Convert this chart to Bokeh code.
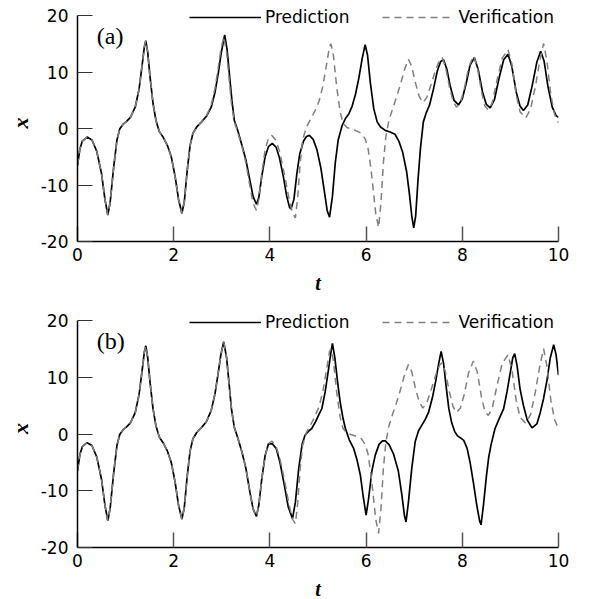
from bokeh.plotting import figure
from bokeh.layouts import column
from bokeh.models import Range1d, Label, FixedTicker
from bokeh.embed import file_html
from bokeh.resources import INLINE

# ---------------- data ----------------
T_A = [
    0, 0.05, 0.1, 0.2, 0.3, 0.4, 0.5, 0.57, 0.63, 0.68,
    0.75, 0.82, 0.88, 0.95, 1.02, 1.1, 1.2, 1.28, 1.34, 1.39,
    1.42, 1.46, 1.51, 1.57, 1.63, 1.7, 1.78, 1.87, 1.95, 2.03,
    2.1, 2.17, 2.22, 2.28, 2.34, 2.4, 2.48, 2.58, 2.68, 2.78,
    2.86, 2.93, 2.99, 3.06, 3.11, 3.16, 3.21, 3.26, 3.33, 3.42,
    3.5, 3.58, 3.65, 3.72, 3.77, 3.83, 3.9, 3.97, 4.05, 4.13,
    4.2, 4.28, 4.35, 4.41, 4.44, 4.5, 4.56, 4.62, 4.7, 4.76,
    4.82, 4.9, 4.98, 5.06, 5.13, 5.19, 5.24, 5.3, 5.36, 5.42,
    5.5, 5.57, 5.64, 5.71, 5.78, 5.85, 5.92, 5.98, 6.03, 6.09,
    6.16, 6.23, 6.3, 6.4, 6.5, 6.6, 6.68, 6.76, 6.84, 6.9,
    6.95, 6.99, 7.03, 7.08, 7.13, 7.19, 7.25, 7.32, 7.4, 7.48,
    7.55, 7.61, 7.68, 7.75, 7.83, 7.92, 8.0, 8.08, 8.16, 8.25,
    8.33, 8.42, 8.5, 8.58, 8.67, 8.76, 8.86, 8.95, 9.03, 9.12,
    9.2, 9.27, 9.36, 9.45, 9.55, 9.63, 9.7, 9.78, 9.87, 9.95,
    10.0]
PRED_A = [
    -6.5, -3.6, -2.2, -1.5, -2.0, -4.0, -8.0, -12.5, -15.3, -13.0,
    -7.0, -2.0, 0.0, 0.8, 1.3, 2.0, 3.8, 7.0, 11.0, 14.5,
    15.6, 13.5, 9.0, 4.5, 1.5, -0.5, -1.5, -3.0, -5.0, -8.5,
    -12.5, -15.0, -13.0, -7.5, -3.0, -0.8, 0.3, 1.2, 2.2, 3.8,
    6.5, 10.0, 13.5, 16.6, 14.0, 9.5, 5.0, 1.5, -0.3, -3.0,
    -5.5, -9.0, -12.0, -13.4, -12.2, -8.5, -5.0, -3.2, -2.6, -3.3,
    -5.2, -8.5, -12.0, -14.0, -14.2, -12.5, -8.0, -4.5, -2.2, -1.4,
    -1.2, -1.9, -3.8, -7.0, -11.0, -14.5, -15.7, -12.0, -6.0, -2.0,
    0.5, 1.8, 2.6, 4.0, 6.1, 9.0, 12.5, 14.9, 13.0, 8.0,
    3.5, 1.2, 0.3, -0.3, -0.6, -1.0, -2.2, -4.2, -7.5, -11.5,
    -15.5, -17.6, -15.5, -9.0, -3.5, 1.2, 2.8, 4.2, 7.0, 10.2,
    11.9, 12.2, 10.5, 7.5, 5.0, 4.2, 5.3, 8.0, 11.2, 12.6,
    10.5, 6.5, 4.3, 3.7, 5.2, 8.8, 12.2, 13.2, 11.0, 6.5,
    4.0, 3.2, 4.2, 7.5, 11.8, 13.7, 12.0, 7.5, 3.8, 2.3,
    2.0]

T_V = [
    0, 0.05, 0.1, 0.2, 0.3, 0.4, 0.5, 0.57, 0.63, 0.68,
    0.75, 0.82, 0.88, 0.95, 1.02, 1.1, 1.2, 1.28, 1.34, 1.39,
    1.42, 1.46, 1.51, 1.57, 1.63, 1.7, 1.78, 1.87, 1.95, 2.03,
    2.1, 2.17, 2.22, 2.28, 2.34, 2.4, 2.48, 2.58, 2.68, 2.78,
    2.86, 2.92, 2.98, 3.04, 3.1, 3.15, 3.2, 3.26, 3.33, 3.42,
    3.5, 3.58, 3.65, 3.72, 3.77, 3.83, 3.9, 3.97, 4.04, 4.12,
    4.2, 4.3, 4.4, 4.47, 4.53, 4.58, 4.63, 4.68, 4.76, 4.85,
    4.94, 5.02, 5.1, 5.18, 5.24, 5.27, 5.32, 5.39, 5.46, 5.52,
    5.6, 5.7, 5.8, 5.9, 5.98, 6.04, 6.1, 6.15, 6.2, 6.26,
    6.31, 6.36, 6.41, 6.47, 6.55, 6.63, 6.72, 6.8, 6.88, 6.95,
    7.02, 7.1, 7.18, 7.26, 7.35, 7.45, 7.53, 7.58, 7.65, 7.73,
    7.81, 7.88, 7.96, 8.04, 8.13, 8.23, 8.31, 8.4, 8.47, 8.54,
    8.62, 8.72, 8.83, 8.95, 9.03, 9.12, 9.2, 9.32, 9.42, 9.52,
    9.61, 9.69, 9.76, 9.84, 9.92, 10.0]
VERIF = [
    -6.5, -3.6, -2.2, -1.5, -2.0, -4.0, -8.0, -12.5, -15.3, -13.0,
    -7.0, -2.0, 0.0, 0.8, 1.3, 2.0, 3.8, 7.0, 11.0, 14.5,
    15.6, 13.5, 9.0, 4.5, 1.5, -0.5, -1.5, -3.0, -5.0, -8.5,
    -12.5, -15.0, -13.0, -7.5, -3.0, -0.8, 0.3, 1.2, 2.2, 4.2,
    7.2, 10.5, 14.0, 16.3, 13.5, 9.0, 4.5, 1.2, -0.6, -3.2,
    -6.0, -10.0, -13.2, -14.5, -12.5, -8.0, -3.8, -1.7, -1.2, -2.0,
    -4.0, -8.0, -12.5, -15.0, -15.8, -12.0, -6.0, -2.0, 0.3, 1.7,
    3.2, 4.8, 7.5, 11.5, 14.6, 15.0, 13.0, 7.3, 3.0, 1.0,
    0.2, -0.1, -0.4, -0.8, -1.8, -3.5, -7.0, -11.0, -15.0, -17.5,
    -13.0, -6.0, -1.5, 1.3, 3.5, 5.5, 8.0, 10.5, 12.3, 11.0,
    8.3, 5.8, 4.6, 5.5, 7.8, 10.5, 12.2, 12.6, 11.0, 7.5,
    4.8, 3.8, 4.6, 7.0, 10.8, 12.9, 11.0, 6.5, 4.0, 3.3,
    4.5, 8.5, 12.5, 14.0, 11.5, 6.0, 3.0, 1.9, 3.5, 7.5,
    12.0, 15.1, 12.0, 6.0, 2.5, 1.0]

T_B = [
    0, 0.05, 0.1, 0.2, 0.3, 0.4, 0.5, 0.57, 0.63, 0.68,
    0.75, 0.82, 0.88, 0.95, 1.02, 1.1, 1.2, 1.28, 1.34, 1.39,
    1.42, 1.46, 1.51, 1.57, 1.63, 1.7, 1.78, 1.87, 1.95, 2.03,
    2.1, 2.17, 2.22, 2.28, 2.34, 2.4, 2.48, 2.58, 2.68, 2.78,
    2.86, 2.92, 2.98, 3.04, 3.1, 3.15, 3.2, 3.26, 3.33, 3.42,
    3.5, 3.58, 3.65, 3.72, 3.77, 3.83, 3.9, 3.97, 4.05, 4.13,
    4.21, 4.3, 4.38, 4.47, 4.53, 4.6, 4.67, 4.73, 4.8, 4.87,
    4.95, 5.02, 5.08, 5.15, 5.22, 5.27, 5.3, 5.35, 5.41, 5.46,
    5.52, 5.57, 5.65, 5.74, 5.81, 5.88, 5.94, 6.0, 6.05, 6.12,
    6.19, 6.27, 6.34, 6.4, 6.48, 6.57, 6.67, 6.74, 6.8, 6.83,
    6.88, 6.95, 7.02, 7.09, 7.16, 7.23, 7.3, 7.38, 7.45, 7.51,
    7.56, 7.61, 7.67, 7.72, 7.78, 7.84, 7.9, 7.97, 8.03, 8.1,
    8.16, 8.23, 8.3, 8.36, 8.39, 8.44, 8.5, 8.55, 8.6, 8.68,
    8.77, 8.86, 8.93, 9.0, 9.05, 9.09, 9.14, 9.2, 9.27, 9.35,
    9.45, 9.55, 9.62, 9.69, 9.76, 9.83, 9.9, 9.95, 10.0]
PRED_B = [
    -6.5, -3.6, -2.2, -1.5, -2.0, -4.0, -8.0, -12.5, -15.3, -13.0,
    -7.0, -2.0, 0.0, 0.8, 1.3, 2.0, 3.8, 7.0, 11.0, 14.5,
    15.6, 13.5, 9.0, 4.5, 1.5, -0.5, -1.5, -3.0, -5.0, -8.5,
    -12.5, -15.0, -13.0, -7.5, -3.0, -0.8, 0.3, 1.2, 2.2, 4.2,
    7.2, 10.5, 14.0, 16.3, 13.5, 9.0, 4.5, 1.2, -0.6, -3.2,
    -6.0, -10.0, -13.2, -14.5, -12.5, -8.0, -3.8, -1.7, -1.7, -2.5,
    -5.0, -9.0, -12.8, -14.9, -12.0, -6.0, -1.8, -0.2, 0.5, 1.0,
    2.2, 3.5, 4.5, 7.5, 11.5, 14.5, 16.0, 13.5, 9.0, 5.7,
    2.8, 1.0, -1.0, -2.5, -4.5, -7.2, -11.0, -14.3, -11.5, -6.5,
    -3.7, -1.8, -1.2, -1.2, -1.9, -3.5, -6.5, -10.5, -14.5, -15.5,
    -12.0, -6.0, -1.35, 0.6, 1.6, 2.6, 3.9, 6.5, 9.5, 12.5,
    14.6, 12.5, 8.0, 4.5, 2.0, 0.5, -0.3, -0.7, -1.1, -2.5,
    -4.9, -8.5, -12.5, -15.3, -16.0, -12.5, -7.5, -4.0, -1.8, 1.0,
    2.8, 4.5, 7.5, 11.0, 13.5, 14.2, 12.0, 8.0, 5.1, 2.5,
    1.1, 1.8, 3.8, 6.3, 9.5, 13.5, 15.8, 14.0, 10.4]

X_TICKS = [0, 2, 4, 6, 8, 10]
Y_TICKS = [-20, -10, 0, 10, 20]
Y_TICK_LABELS = ["-20", "-10", "0", "10", "20"]
PANEL_TAGS = ["(a)", "(b)"]
SERIES_NAMES = ["Prediction", "Verification"]

assert len(T_A) == len(PRED_A)
assert len(T_V) == len(VERIF)
assert len(T_B) == len(PRED_B)

TICK_FONT = "DejaVu Sans"
Y_TOP = 22  # room above the axis for the legend row


def make_panel(t_pred, x_pred, tag, frame_h, border_bottom):
    p = figure(frame_width=481, frame_height=frame_h,
               x_range=Range1d(0, 10), y_range=Range1d(-20, Y_TOP),
               output_backend="svg", toolbar_location=None,
               min_border_left=77, min_border_right=20,
               min_border_top=4, min_border_bottom=border_bottom)
    p.xgrid.visible = False
    p.ygrid.visible = False
    p.outline_line_color = None
    p.background_fill_color = "white"
    p.border_fill_color = "white"

    p.line(t_pred, x_pred, line_color="black", line_width=1.7,
           legend_label=SERIES_NAMES[0])
    p.line(T_V, VERIF, line_color="#808080", line_width=1.5,
           line_dash="7 5", legend_label=SERIES_NAMES[1])

    for ax in (p.xaxis[0], p.yaxis[0]):
        ax.axis_line_color = "black"
        ax.axis_line_width = 1.5
        ax.major_tick_in = 15
        ax.major_tick_out = 0
        ax.minor_tick_line_color = None
        ax.major_label_text_font = TICK_FONT
        ax.major_label_text_font_size = "17px"
        ax.major_label_text_color = "black"
        ax.axis_label_text_font = "Liberation Serif"
        ax.axis_label_text_font_style = "bold italic"
        ax.axis_label_text_color = "black"

    p.xaxis.ticker = FixedTicker(ticks=X_TICKS)
    p.yaxis.ticker = FixedTicker(ticks=Y_TICKS)
    p.yaxis.bounds = (Y_TICKS[0], Y_TICKS[-1])
    p.yaxis.major_label_overrides = dict(zip(Y_TICKS, Y_TICK_LABELS))
    p.xaxis.major_tick_line_color = "#555555"
    p.xaxis.major_tick_line_width = 1.5
    p.yaxis.major_tick_line_color = "#333333"
    p.yaxis.major_tick_line_width = 1.2
    p.xaxis.major_label_standoff = 6
    p.yaxis.major_label_standoff = 9

    p.xaxis.axis_label = "t"
    p.xaxis.axis_label_text_font_size = "20px"
    p.xaxis.axis_label_standoff = 8
    p.yaxis.axis_label = "x"
    p.yaxis.axis_label_text_font_size = "22px"
    p.yaxis.axis_label_standoff = 5

    px_per_unit = frame_h / (Y_TOP + 20)
    lg = p.legend[0]
    lg.location = (112, int(round(40 * px_per_unit - 12)))
    lg.orientation = "horizontal"
    lg.background_fill_alpha = 0
    lg.border_line_color = None
    lg.padding = 0
    lg.margin = 0
    lg.spacing = 33
    lg.glyph_width = 72
    lg.glyph_height = 14
    lg.label_height = 14
    lg.label_standoff = 4
    lg.label_text_font = TICK_FONT
    lg.label_text_font_size = "17px"
    lg.label_text_color = "black"

    p.add_layout(Label(x=0.4, y=16.4, text=tag,
                       text_font="Liberation Serif", text_font_size="24px",
                       text_baseline="alphabetic", text_align="left",
                       text_color="black"))
    return p


pa = make_panel(T_A, PRED_A, PANEL_TAGS[0], 237, 64)
pb = make_panel(T_B, PRED_B, PANEL_TAGS[1], 238, 50)

layout = column(pa, pb, spacing=0)
open("out.html", "w").write(file_html(layout, INLINE))
